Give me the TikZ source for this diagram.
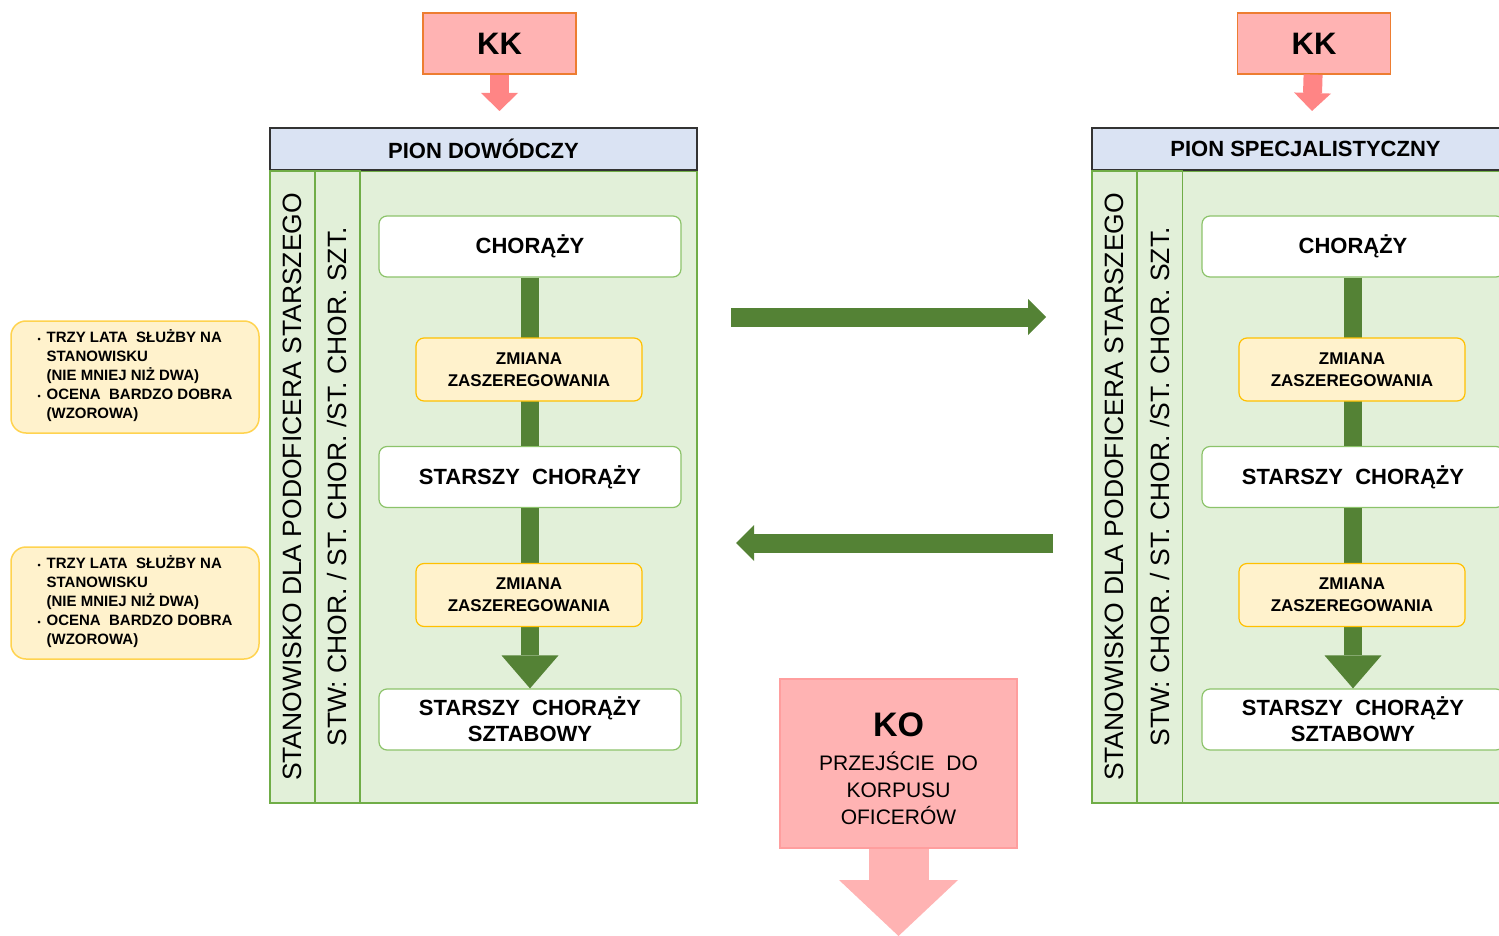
\documentclass[tikz,border=0pt]{standalone}
\usepackage{fontspec}
\setmainfont{Liberation Sans}
\usetikzlibrary{arrows.meta}

\definecolor{hdrblue}{HTML}{DAE3F3}
\definecolor{pangreen}{HTML}{E2F0D9}
\definecolor{edgegreen}{HTML}{70AD47}
\definecolor{boxgreen}{HTML}{8CC36A}
\definecolor{bargreen}{HTML}{548235}
\definecolor{zmfill}{HTML}{FFF2CC}
\definecolor{zmedge}{HTML}{FFC000}
\definecolor{notedge}{HTML}{FFD34F}
\definecolor{kkfill}{HTML}{FFB3B3}
\definecolor{kkedge}{HTML}{ED7D31}
\definecolor{koedge}{HTML}{FF9E9E}
\definecolor{kkarrow}{HTML}{FF8585}

\begin{document}
\begin{tikzpicture}[x=1pt,y=-1pt,
    header/.style={draw=black!80,fill=hdrblue,line width=1.5pt,minimum width=427pt,minimum height=42pt,inner sep=0pt,font=\fontsize{22}{26}\selectfont\bfseries},
    panel/.style={draw=edgegreen,fill=pangreen,line width=1.5pt,inner sep=0pt},
    column/.style={panel,rotate=90,minimum width=632pt,minimum height=45pt,font=\fontsize{26.5}{30}\selectfont},
    rank/.style={draw=boxgreen,fill=white,rounded corners=8pt,line width=1.2pt,minimum width=302pt,minimum height=61pt,align=center,inner sep=0pt,font=\fontsize{22}{26}\selectfont\bfseries},
    zmiana/.style={draw=zmedge,fill=zmfill,rounded corners=8pt,line width=1.2pt,minimum width=226pt,minimum height=63pt,align=center,inner sep=0pt,font=\fontsize{17}{22}\selectfont\bfseries},
    note/.style={draw=notedge,fill=zmfill,rounded corners=15pt,line width=1.5pt,minimum width=248pt,minimum height=112pt,inner sep=0pt,font=\fontsize{15}{19}\selectfont\bfseries},
    kk/.style={draw=kkedge,fill=kkfill,line width=1.2pt,minimum width=153pt,minimum height=61pt,font=\fontsize{31}{36}\selectfont\bfseries},
    pinkarrow/.style={kkarrow,line width=19pt,-{Triangle[width=37pt,length=18pt,line width=0pt]}},
    greenbar/.style={bargreen,line width=18pt},
    bigarrow/.style={bargreen,line width=19pt,-{Triangle[width=36pt,length=18pt,line width=0pt]}}
  ]
      \useasboundingbox (0,0) rectangle (1499,936);
      \clip (0,0) rectangle (1499,936);

      %% left panel
      \node[panel,minimum width=427pt,minimum height=632pt] (bodyL) at (483.5,487) {};
      \node[header] (headL) at (483.5,149) {PION DOWÓDCZY};
      \node[column] (colaL) at (292.5,487) {STANOWISKO DLA PODOFICERA STARSZEGO};
      \node[column] (colbL) at (337.5,487) {STW: CHOR. / ST. CHOR. /ST. CHOR. SZT.};

      \node[rank] (chorL) at (530,246.5) {CHORĄŻY};
      \node[rank] (stL) at (530,477) {STARSZY\ \ CHORĄŻY};
      \node[rank] (sztL) at (530,719.5) {STARSZY\ \ CHORĄŻY\\SZTABOWY};

      % chorL -> stL -> sztL
      \draw[greenbar] (chorL) -- (stL);
      \draw[greenbar,-{Triangle[width=57pt,length=33pt,line width=0pt]}] (stL) -- (sztL);

      \node[zmiana] (zm1L) at (529,369.5) {ZMIANA\\ZASZEREGOWANIA};
      \node[zmiana] (zm2L) at (529,595) {ZMIANA\\ZASZEREGOWANIA};

      %% right panel
      \node[panel,minimum width=427pt,minimum height=632pt] (bodyR) at (1305.5,487) {};
      \node[header] (headR) at (1305.5,149) {PION SPECJALISTYCZNY};
      \node[column] (colaR) at (1114.5,487) {STANOWISKO DLA PODOFICERA STARSZEGO};
      \node[column] (colbR) at (1160,487) {STW: CHOR. / ST. CHOR. /ST. CHOR. SZT.};

      \node[rank] (chorR) at (1353,246.5) {CHORĄŻY};
      \node[rank] (stR) at (1353,477) {STARSZY\ \ CHORĄŻY};
      \node[rank] (sztR) at (1353,719.5) {STARSZY\ \ CHORĄŻY\\SZTABOWY};

      % chorR -> stR -> sztR
      \draw[greenbar] (chorR) -- (stR);
      \draw[greenbar,-{Triangle[width=57pt,length=33pt,line width=0pt]}] (stR) -- (sztR);

      \node[zmiana] (zm1R) at (1352,369.5) {ZMIANA\\ZASZEREGOWANIA};
      \node[zmiana] (zm2R) at (1352,595) {ZMIANA\\ZASZEREGOWANIA};

      %% KK boxes
      \node[kk] (kkL) at (499.5,43.5) {KK};
      \node[kk] (kkR) at (1314,43.5) {KK};
      \coordinate (kkLend) at (499.5,111);
      \coordinate (kkRend) at (1312,111);
      \draw[pinkarrow] (kkL) -- (kkLend);
      \draw[pinkarrow] (kkR) -- (kkRend);

      %% arrows between panels
      \coordinate (toRs) at (731,317);
      \coordinate (toRe) at (1046,317);
      \coordinate (toLs) at (1053,543);
      \coordinate (toLe) at (736,543);
      \draw[bigarrow] (toRs) -- (toRe);
      \draw[bigarrow] (toLs) -- (toLe);

      %% KO
      \node[draw=koedge,fill=kkfill,line width=1.2pt,minimum width=237pt,minimum height=169pt,align=center,inner sep=0pt,font=\fontsize{21}{27}\selectfont] (ko) at (898.5,763.5)
        {\rule{0pt}{35pt}{\fontsize{34}{38}\selectfont\bfseries KO}\\[7pt]PRZEJŚCIE\ \ DO\\KORPUSU\\OFICERÓW};
      \coordinate (koend) at (898.5,936);
      \draw[kkfill,line width=60pt,-{Triangle[width=119pt,length=56pt,line width=0pt]}] (ko) -- (koend);

      %% notes
      \node[note] (note1) at (135,377) {%
        \begin{tabular}{@{}c@{\hspace{6pt}}l@{}}
          {\fontsize{9}{9}\selectfont\textbullet} & TRZY LATA\ \ SŁUŻBY NA\\
           & STANOWISKU\\
           & (NIE MNIEJ NIŻ DWA)\\
          {\fontsize{9}{9}\selectfont\textbullet} & OCENA\ \ BARDZO DOBRA\\
           & (WZOROWA)
        \end{tabular}};
      \node[note] (note2) at (135,603) {%
        \begin{tabular}{@{}c@{\hspace{6pt}}l@{}}
          {\fontsize{9}{9}\selectfont\textbullet} & TRZY LATA\ \ SŁUŻBY NA\\
           & STANOWISKU\\
           & (NIE MNIEJ NIŻ DWA)\\
          {\fontsize{9}{9}\selectfont\textbullet} & OCENA\ \ BARDZO DOBRA\\
           & (WZOROWA)
        \end{tabular}};

\end{tikzpicture}
\end{document}
